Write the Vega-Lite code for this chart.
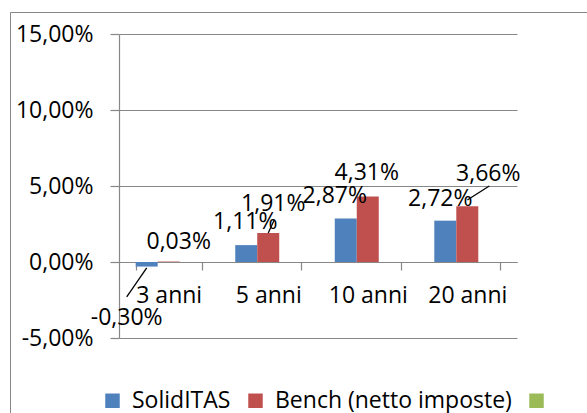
{
  "$schema": "https://vega.github.io/schema/vega-lite/v6.json",
  "width": 578,
  "height": 402,
  "autosize": {"type": "none"},
  "padding": {"left": 10, "top": 12, "right": 0, "bottom": 0},
  "background": "white",
  "config": {
    "locale": {"number": {"decimal": ",", "thousands": ".", "grouping": [3], "currency": ["€", ""], "minus": "-"}},
    "font": "Open Sans",
    "view": {"stroke": "#878787", "strokeWidth": 1},
    "axis": {"labelFont": "Open Sans", "labelFontSize": 23, "labelColor": "#000000", "domainColor": "#878787", "tickColor": "#878787", "gridColor": "#878787", "domainWidth": 1.2, "tickWidth": 1.2, "gridWidth": 1.2},
    "text": {"font": "Open Sans", "fontSize": 23, "color": "#000000", "baseline": "middle", "align": "center"}
  },
  "data": {
    "values": [
      {"period": "3 anni", "series": "SolidITAS", "value": -0.003},
      {"period": "3 anni", "series": "Bench (netto imposte)", "value": 0.0003},
      {"period": "5 anni", "series": "SolidITAS", "value": 0.0111},
      {"period": "5 anni", "series": "Bench (netto imposte)", "value": 0.0191},
      {"period": "10 anni", "series": "SolidITAS", "value": 0.0287},
      {"period": "10 anni", "series": "Bench (netto imposte)", "value": 0.0431},
      {"period": "20 anni", "series": "SolidITAS", "value": 0.0272},
      {"period": "20 anni", "series": "Bench (netto imposte)", "value": 0.0366}
    ]
  },
  "encoding": {
    "x": {
      "field": "period", "type": "nominal",
      "scale": {"domain": ["3 anni", "5 anni", "10 anni", "20 anni"], "range": [109, 507], "paddingInner": 0.337, "paddingOuter": 0.168},
      "axis": {"orient": "bottom", "offset": -152, "title": null, "tickBand": "extent", "tickSize": 8, "labelPadding": 14, "labelAngle": 0, "labelBaseline": "top", "grid": false}
    },
    "xOffset": {
      "field": "series", "type": "nominal",
      "scale": {"domain": ["SolidITAS", "Bench (netto imposte)", ""], "paddingInner": 0, "paddingOuter": 0}
    },
    "y": {
      "field": "value", "type": "quantitative",
      "scale": {"domain": [-0.05, 0.15], "range": [326, 22], "nice": false, "zero": false},
      "axis": {"orient": "left", "offset": -109, "values": [-0.05, 0, 0.05, 0.1, 0.15], "format": ".2%", "tickSize": 9, "labelPadding": 17, "grid": true, "title": null}
    }
  },
  "layer": [
    {
      "mark": {"type": "bar"},
      "encoding": {
        "color": {
          "field": "series", "type": "nominal",
          "scale": {"domain": ["SolidITAS", "Bench (netto imposte)", ""], "range": ["#4F81BD", "#C0504D", "#9BBB59"]},
          "legend": {"orient": "none", "legendX": 91, "legendY": 377, "direction": "horizontal", "title": null, "symbolType": "square", "symbolSize": 210, "symbolStrokeWidth": 0, "symbolOpacity": 1, "labelFont": "Open Sans", "labelFontSize": 23, "labelColor": "#000000", "labelOffset": 8, "labelLimit": 0, "columnPadding": 13}
        }
      }
    },
    {
      "transform": [{"filter": "(datum.period == '10 anni' && datum.series == 'Bench (netto imposte)') || (datum.period == '5 anni' && datum.series == 'SolidITAS')"}],
      "mark": {"type": "text", "dx": -1, "dy": -23},
      "encoding": {"text": {"field": "value", "type": "quantitative", "format": ".2%"}}
    },
    {
      "transform": [{"filter": "datum.period == '20 anni' && datum.series == 'SolidITAS'"}],
      "mark": {"type": "text", "dx": -5, "dy": -22},
      "encoding": {"text": {"field": "value", "type": "quantitative", "format": ".2%"}}
    },
    {
      "transform": [{"filter": "datum.period == '10 anni' && datum.series == 'SolidITAS'"}],
      "mark": {"type": "text", "dx": -11, "dy": -22},
      "encoding": {"text": {"field": "value", "type": "quantitative", "format": ".2%"}}
    },
    {
      "transform": [{"filter": "datum.period == '5 anni' && datum.series == 'Bench (netto imposte)'"}],
      "mark": {"type": "text", "dx": 5, "dy": -29},
      "encoding": {"text": {"field": "value", "type": "quantitative", "format": ".2%"}}
    },
    {
      "transform": [{"filter": "datum.period == '20 anni' && datum.series == 'Bench (netto imposte)'"}],
      "mark": {"type": "text", "dx": 21, "dy": -32},
      "encoding": {"text": {"field": "value", "type": "quantitative", "format": ".2%"}}
    },
    {
      "transform": [{"filter": "datum.period == '3 anni' && datum.series == 'Bench (netto imposte)'"}],
      "mark": {"type": "text", "dx": 10, "dy": -20},
      "encoding": {"text": {"field": "value", "type": "quantitative", "format": ".2%"}}
    },
    {
      "transform": [{"filter": "datum.period == '3 anni' && datum.series == 'SolidITAS'"}],
      "mark": {"type": "text", "dx": -20, "dy": 51},
      "encoding": {"text": {"field": "value", "type": "quantitative", "format": ".2%"}}
    },
    {
      "transform": [{"filter": "datum.period == '3 anni' && datum.series == 'SolidITAS'"}],
      "mark": {"type": "point", "shape": "M-2,3.04L0,0.14", "size": 400, "filled": false, "stroke": "#000000", "strokeWidth": 1.3, "opacity": 1},
      "encoding": {}
    },
    {
      "transform": [{"filter": "datum.period == '20 anni' && datum.series == 'Bench (netto imposte)'"}],
      "mark": {"type": "point", "shape": "M0,-0.64L2.2,-2.04", "size": 400, "filled": false, "stroke": "#000000", "strokeWidth": 1.3, "opacity": 1},
      "encoding": {}
    },
    {
      "transform": [{"filter": "datum.period == '5 anni' && datum.series == 'Bench (netto imposte)'"}],
      "mark": {"type": "point", "shape": "M0,0L0.6,-1.3", "size": 400, "filled": false, "stroke": "#000000", "strokeWidth": 1.3, "opacity": 1},
      "encoding": {}
    }
  ]
}
